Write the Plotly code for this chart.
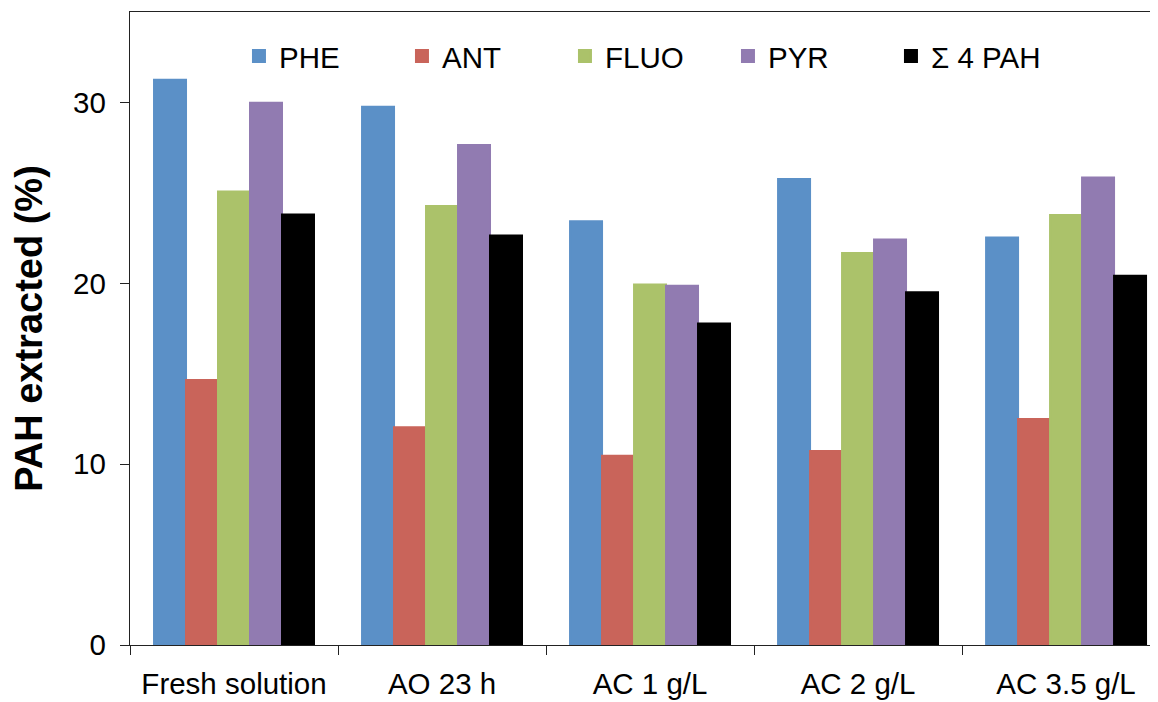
import plotly.graph_objects as go

categories = ["Fresh solution", "AO 23 h", "AC 1 g/L", "AC 2 g/L", "AC 3.5 g/L"]
series_names = ["PHE", "ANT", "FLUO", "PYR", "\u03a3 4 PAH"]
phe = [31.25, 29.76, 23.43, 25.76, 22.53]
ant = [14.65, 12.04, 10.47, 10.73, 12.50]
fluo = [25.07, 24.28, 19.93, 21.68, 23.77]
pyr = [29.98, 27.64, 19.87, 22.42, 25.85]
sum4 = [23.80, 22.64, 17.77, 19.51, 20.41]
y_ticks = [0, 10, 20, 30]

colors = ["#5B90C7", "#C9645A", "#ABC26A", "#917BB1", "#000000"]
FONT = "Liberation Sans, Arial, sans-serif"

fig = go.Figure()
for name, vals, col in zip(series_names, [phe, ant, fluo, pyr, sum4], colors):
    fig.add_trace(go.Bar(
        name=name, x=categories, y=vals,
        marker=dict(color=col, line=dict(color=col, width=2)),
    ))

# page body has an 8px margin, so the figure is sized/offset to fill the window
fig.update_layout(
    width=1150, height=694,
    margin=dict(l=122, r=0, t=4, b=57, autoexpand=False),
    paper_bgcolor="white", plot_bgcolor="white",
    barmode="group", bargap=0.231, bargroupgap=0,
    font=dict(family=FONT, size=29, color="black"),
    showlegend=True,
    legend=dict(
        orientation="h", x=0.106, xanchor="left", y=0.93, yanchor="middle",
        font=dict(family=FONT, size=29.5, color="black"),
        entrywidth=118, entrywidthmode="pixels",
        itemclick=False, bgcolor="rgba(0,0,0,0)", traceorder="normal",
    ),
)

fig.update_xaxes(
    type="category", range=[-0.5, 4.442],
    showline=True, linecolor="#222222", linewidth=1.3, mirror=True,
    ticks="outside", ticklen=9, tickcolor="#222222", tickwidth=1.3,
    tickson="boundaries", showgrid=False, zeroline=False,
    tickfont=dict(family=FONT, size=29.5, color="black"),
    ticklabelstandoff=12,
)
fig.update_yaxes(
    range=[0, 35], tickvals=y_ticks, ticktext=[str(v) for v in y_ticks],
    showline=True, linecolor="#222222", linewidth=1.3,
    ticks="outside", ticklen=9, tickcolor="#222222", tickwidth=1.3,
    showgrid=False, zeroline=False,
    tickfont=dict(family=FONT, size=29.5, color="black"),
    ticklabelstandoff=8,
    title=dict(text="<b>PAH extracted (%)</b>", font=dict(family=FONT, size=38, color="black"), standoff=26),
)

fig.write_html("out.html")
